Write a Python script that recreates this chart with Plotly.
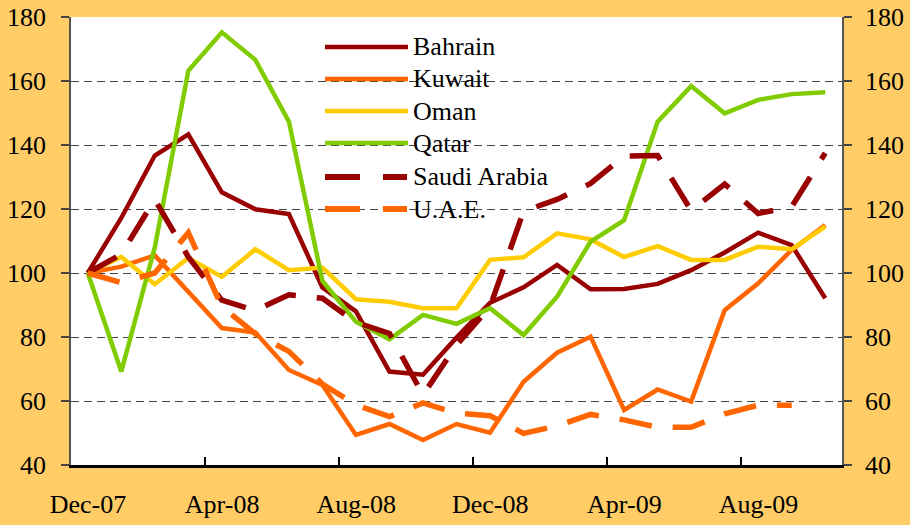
import plotly.graph_objects as go

months = ["Dec-07", "Jan-08", "Feb-08", "Mar-08", "Apr-08", "May-08", "Jun-08", "Jul-08",
          "Aug-08", "Sep-08", "Oct-08", "Nov-08", "Dec-08", "Jan-09", "Feb-09", "Mar-09",
          "Apr-09", "May-09", "Jun-09", "Jul-09", "Aug-09", "Sep-09", "Oct-09"]

bahrain = [100, 117.2, 136.7, 143.3, 125.2, 119.9, 118.4, 95.5, 88.0, 69.2, 68.2, 79.8,
           90.7, 95.5, 102.5, 94.9, 95.0, 96.6, 100.9, 106.4, 112.6, 108.7, 92.1]
kuwait = [100, 102.0, 105.5, 94.3, 82.8, 81.4, 69.7, 65.0, 49.4, 52.8, 47.8, 52.8,
          50.1, 66.0, 75.1, 80.1, 57.2, 63.6, 59.8, 88.4, 96.8, 107.2, 115.0]
oman = [100, 105.0, 96.5, 104.7, 98.8, 107.4, 100.9, 101.7, 91.8, 91.0, 89.0, 89.0,
        104.1, 104.9, 112.4, 110.5, 105.0, 108.4, 104.1, 104.1, 108.2, 107.4, 114.5]
qatar = [100, 69.2, 108.0, 163.2, 175.2, 166.6, 147.3, 97.5, 84.8, 79.3, 86.9, 84.1,
         89.0, 80.6, 92.6, 109.8, 116.5, 147.3, 158.4, 149.9, 154.1, 155.9, 156.5]
saudi = [100, 105.9, 123.0, 105.0, 91.5, 88.3, 93.2, 92.1, 84.6, 81.1, 61.9, 77.5,
         89.4, 119.3, 123.0, 128.0, 136.5, 136.7, 119.5, 127.8, 118.6, 120.7, 137.5]
uae = [100, 97.0, 100.0, 112.6, 89.5, 81.0, 75.5, 65.3, 58.8, 55.1, 59.4, 56.2,
       55.4, 49.9, 52.2, 55.8, 54.1, 51.8, 51.8, 56.0, 58.7, 58.7, None]

tick_labels = ["Dec-07", "Apr-08", "Aug-08", "Dec-08", "Apr-09", "Aug-09"]
y_ticks = [40, 60, 80, 100, 120, 140, 160, 180]

series = [
    ("Bahrain", bahrain, "#990000", "solid"),
    ("Kuwait", kuwait, "#FF6600", "solid"),
    ("Oman", oman, "#FFCC00", "solid"),
    ("Qatar", qatar, "#80CC00", "solid"),
    ("Saudi Arabia", saudi, "#990000", "dash"),
    ("U.A.E.", uae, "#FF6600", "dash"),
]

FONT = "Liberation Serif"
BG = "#FFCC66"

# plot-area pixel frame (for legend placement helpers)
PX_L, PX_R, PX_T, PX_B = 71, 842, 17, 465
W, H = 910, 525


def px_x(p):
    return (p - PX_L) / (PX_R - PX_L)


def px_y(p):
    return (PX_B - p) / (PX_B - PX_T)


xs = list(range(len(months)))
fig = go.Figure()
for name, vals, color, style in series:
    fig.add_trace(go.Scatter(
        x=xs, y=vals, mode="lines", name=name,
        line=dict(color=color, width=5.5 if style == "dash" else 4.5,
                  dash="33px,21px" if style == "dash" else "solid"),
        showlegend=False, connectgaps=False,
    ))

# invisible trace for right axis
fig.add_trace(go.Scatter(x=[0], y=[100], yaxis="y2", mode="lines",
                         line=dict(width=0), showlegend=False, hoverinfo="skip"))

tickpos = [months.index(t) - 0.5 for t in tick_labels]
half_cat = int(round((PX_R - PX_L) / len(months) / 2))

shapes = [dict(type="rect", xref="paper", yref="paper",
               x0=px_x(294), x1=px_x(585), y0=px_y(228), y1=px_y(26),
               fillcolor="white", line=dict(width=0), layer="between")]
annotations = []
rows = [47, 79, 111, 143, 177, 209]
for (name, vals, color, style), ry in zip(series, rows):
    if style == "solid":
        segs = [(325, 408)]
        lw = 4.5
    else:
        segs = [(325, 360), (383, 407)]
        lw = 6
    for a, b in segs:
        shapes.append(dict(type="line", xref="paper", yref="paper",
                           x0=px_x(a), x1=px_x(b), y0=px_y(ry), y1=px_y(ry),
                           line=dict(color=color, width=lw), layer="above"))
    annotations.append(dict(xref="paper", yref="paper", x=px_x(411), y=px_y(ry),
                            xanchor="left", yanchor="middle", text=name, showarrow=False,
                            font=dict(family=FONT, size=26, color="black", weight="normal")))

tf = dict(family=FONT, size=26, color="black", weight="normal")
fig.update_layout(
    width=W, height=H,
    margin=dict(l=PX_L, r=W - PX_R, t=PX_T, b=H - PX_B, autoexpand=False),
    paper_bgcolor=BG, plot_bgcolor="white",
    font=dict(family=FONT, size=26, color="black"),
    xaxis=dict(range=[-0.5, len(months) - 0.5], tickmode="array", tickvals=tickpos,
               ticktext=tick_labels, ticks="inside", ticklen=8, tickwidth=2,
               tickcolor="black", showline=True, linecolor="black", linewidth=3,
               showgrid=False, zeroline=False, ticklabelshift=half_cat,
               ticklabelstandoff=14, tickfont=tf, automargin=False),
    yaxis=dict(range=[40, 180], tickmode="array", tickvals=y_ticks, ticks="outside",
               ticklen=8, tickwidth=1.5, tickcolor="#444", showline=True,
               linecolor="#555", linewidth=1.5, showgrid=True, gridcolor="#444",
               gridwidth=1.2, griddash="8px,5px", zeroline=False,
               ticklabelstandoff=10, tickfont=tf, automargin=False),
    yaxis2=dict(range=[40, 180], tickmode="array", tickvals=y_ticks, ticks="outside",
                ticklen=8, tickwidth=1.5, tickcolor="#444", showline=True,
                linecolor="#555", linewidth=1.5, showgrid=False, zeroline=False,
                overlaying="y", side="right", anchor="x",
                ticklabelstandoff=8, tickfont=tf, automargin=False),
    shapes=shapes, annotations=annotations, showlegend=False,
)

fig.write_html("out.html", config={"displayModeBar": False},
               post_script="document.body.style.margin='0px';"
                           "document.body.style.overflow='hidden';"
                           "document.documentElement.style.overflow='hidden';")
